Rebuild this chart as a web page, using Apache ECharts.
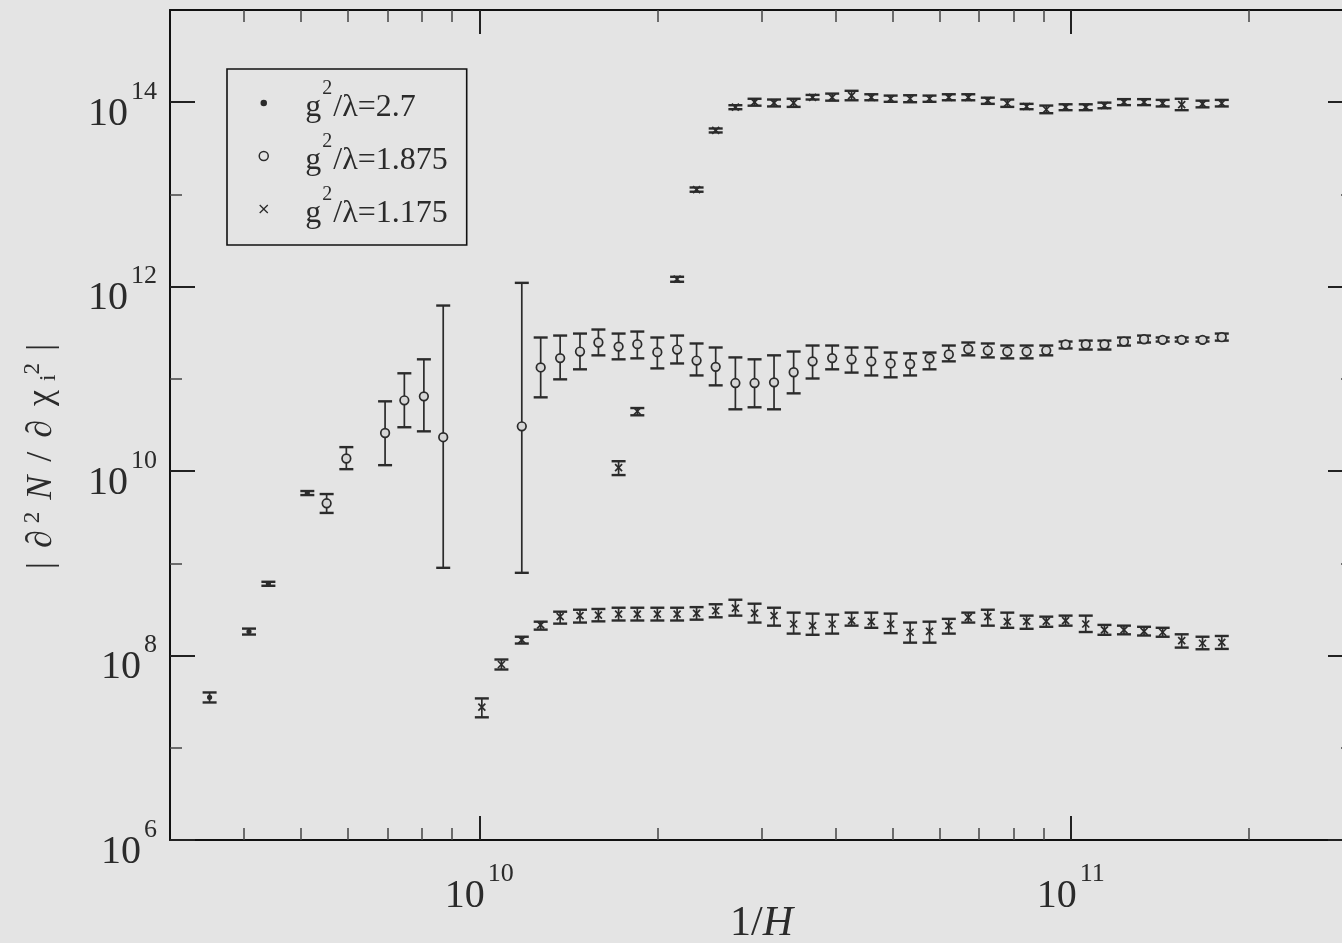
<!DOCTYPE html>
<html>
<head>
<meta charset="utf-8">
<script src="https://cdn.jsdelivr.net/npm/echarts@6/dist/echarts.min.js"></script>
<style>
html, body { margin: 0; padding: 0; background: #e4e4e4; }
#main { width: 1342px; height: 943px; }
</style>
</head>
<body>
<div id="main"></div>
<script>
// rows: [1/H, |d2N/dchi^2|, lower end of error bar, upper end of error bar]
var pts27 = [
    [3.50e9, 3.52e7, 3.10e7, 3.98e7],
    [4.08e9, 1.82e8, 1.69e8, 1.96e8],
    [4.40e9, 6.00e8, 5.71e8, 6.31e8],
    [5.12e9, 5.78e9, 5.50e9, 6.08e9]
];

var pts1875 = [
    [5.52e9, 4.48e9, 3.52e9, 5.64e9],
    [5.96e9, 1.37e10, 1.05e10, 1.82e10],
    [6.93e9, 2.59e10, 1.16e10, 5.71e10],
    [7.47e9, 5.86e10, 2.99e10, 1.15e11],
    [8.06e9, 6.47e10, 2.70e10, 1.63e11],
    [8.69e9, 2.33e10, 8.94e8, 6.24e11],
    [1.18e10, 3.06e10, 7.89e8, 1.10e12],
    [1.27e10, 1.33e11, 6.31e10, 2.81e11],
    [1.37e10, 1.68e11, 9.89e10, 2.95e11],
    [1.48e10, 1.98e11, 1.27e11, 3.10e11],
    [1.59e10, 2.48e11, 1.80e11, 3.43e11],
    [1.72e10, 2.24e11, 1.63e11, 3.10e11],
    [1.85e10, 2.38e11, 1.67e11, 3.26e11],
    [2.00e10, 1.95e11, 1.30e11, 2.81e11],
    [2.16e10, 2.08e11, 1.47e11, 2.95e11],
    [2.33e10, 1.58e11, 1.09e11, 2.42e11],
    [2.51e10, 1.35e11, 8.51e10, 2.19e11],
    [2.71e10, 9.02e10, 4.68e10, 1.71e11],
    [2.92e10, 9.02e10, 4.92e10, 1.63e11],
    [3.15e10, 9.17e10, 4.68e10, 1.80e11],
    [3.40e10, 1.18e11, 6.97e10, 1.98e11],
    [3.66e10, 1.55e11, 1.01e11, 2.30e11],
    [3.95e10, 1.68e11, 1.27e11, 2.30e11],
    [4.26e10, 1.63e11, 1.17e11, 2.19e11],
    [4.60e10, 1.55e11, 1.09e11, 2.19e11],
    [4.96e10, 1.47e11, 1.04e11, 1.93e11],
    [5.35e10, 1.45e11, 1.09e11, 1.89e11],
    [5.77e10, 1.67e11, 1.27e11, 1.93e11],
    [6.22e10, 1.84e11, 1.55e11, 2.30e11],
    [6.71e10, 2.10e11, 1.80e11, 2.48e11],
    [7.24e10, 2.03e11, 1.71e11, 2.42e11],
    [7.81e10, 1.98e11, 1.67e11, 2.30e11],
    [8.42e10, 1.98e11, 1.67e11, 2.30e11],
    [9.09e10, 2.03e11, 1.80e11, 2.30e11],
    [9.80e10, 2.36e11, 2.14e11, 2.54e11],
    [1.06e11, 2.36e11, 2.08e11, 2.60e11],
    [1.14e11, 2.36e11, 2.08e11, 2.60e11],
    [1.23e11, 2.54e11, 2.30e11, 2.81e11],
    [1.33e11, 2.69e11, 2.48e11, 2.95e11],
    [1.43e11, 2.65e11, 2.54e11, 2.81e11],
    [1.54e11, 2.65e11, 2.54e11, 2.81e11],
    [1.67e11, 2.65e11, 2.54e11, 2.81e11],
    [1.80e11, 2.83e11, 2.60e11, 3.10e11]
];

// g2/lambda = 1.175, upper branch
var pts1175a = [
    [1.72e10, 1.09e10, 9.06e9, 1.28e10],
    [1.85e10, 4.46e10, 4.03e10, 4.83e10],
    [2.16e10, 1.21e12, 1.13e12, 1.28e12],
    [2.33e10, 1.13e13, 1.07e13, 1.19e13],
    [2.51e10, 4.94e13, 4.70e13, 5.19e13],
    [2.71e10, 8.83e13, 8.40e13, 9.28e13],
    [2.92e10, 1.00e14, 9.17e13, 1.09e14],
    [3.15e10, 9.83e13, 9.00e13, 1.07e14],
    [3.40e10, 9.83e13, 8.90e13, 1.09e14],
    [3.66e10, 1.13e14, 1.07e14, 1.20e14],
    [3.95e10, 1.13e14, 1.04e14, 1.24e14],
    [4.26e10, 1.18e14, 1.05e14, 1.33e14],
    [4.60e10, 1.13e14, 1.05e14, 1.22e14],
    [4.96e10, 1.09e14, 1.01e14, 1.18e14],
    [5.35e10, 1.09e14, 1.00e14, 1.19e14],
    [5.77e10, 1.09e14, 1.01e14, 1.18e14],
    [6.22e10, 1.13e14, 1.05e14, 1.22e14],
    [6.71e10, 1.13e14, 1.05e14, 1.22e14],
    [7.24e10, 1.04e14, 9.60e13, 1.12e14],
    [7.81e10, 9.75e13, 8.90e13, 1.07e14],
    [8.42e10, 8.99e13, 8.40e13, 9.60e13],
    [9.09e10, 8.34e13, 7.60e13, 9.20e13],
    [9.80e10, 8.83e13, 8.20e13, 9.50e13],
    [1.06e11, 8.83e13, 8.20e13, 9.50e13],
    [1.14e11, 9.21e13, 8.60e13, 9.90e13],
    [1.23e11, 1.00e14, 9.30e13, 1.08e14],
    [1.33e11, 1.00e14, 9.30e13, 1.08e14],
    [1.43e11, 9.75e13, 9.00e13, 1.06e14],
    [1.54e11, 9.44e13, 8.20e13, 1.09e14],
    [1.67e11, 9.58e13, 8.80e13, 1.04e14],
    [1.80e11, 9.75e13, 9.00e13, 1.06e14]
];

// g2/lambda = 1.175, lower branch
var pts1175b = [
    [1.01e10, 2.76e7, 2.14e7, 3.43e7],
    [1.09e10, 8.00e7, 7.06e7, 9.06e7],
    [1.18e10, 1.48e8, 1.35e8, 1.60e8],
    [1.27e10, 2.15e8, 1.91e8, 2.33e8],
    [1.37e10, 2.64e8, 2.22e8, 2.99e8],
    [1.48e10, 2.71e8, 2.28e8, 3.14e8],
    [1.59e10, 2.75e8, 2.35e8, 3.20e8],
    [1.72e10, 2.82e8, 2.40e8, 3.30e8],
    [1.85e10, 2.82e8, 2.40e8, 3.30e8],
    [2.00e10, 2.82e8, 2.40e8, 3.30e8],
    [2.16e10, 2.82e8, 2.40e8, 3.30e8],
    [2.33e10, 2.87e8, 2.45e8, 3.35e8],
    [2.51e10, 3.06e8, 2.60e8, 3.60e8],
    [2.71e10, 3.26e8, 2.71e8, 4.03e8],
    [2.92e10, 2.88e8, 2.28e8, 3.65e8],
    [3.15e10, 2.71e8, 2.11e8, 3.30e8],
    [3.40e10, 2.20e8, 1.73e8, 2.92e8],
    [3.66e10, 2.11e8, 1.68e8, 2.85e8],
    [3.95e10, 2.20e8, 1.73e8, 2.78e8],
    [4.26e10, 2.39e8, 2.11e8, 2.92e8],
    [4.60e10, 2.33e8, 2.00e8, 2.92e8],
    [4.96e10, 2.20e8, 1.75e8, 2.85e8],
    [5.35e10, 1.79e8, 1.38e8, 2.28e8],
    [5.77e10, 1.83e8, 1.38e8, 2.33e8],
    [6.22e10, 2.11e8, 1.73e8, 2.50e8],
    [6.71e10, 2.60e8, 2.28e8, 2.92e8],
    [7.24e10, 2.64e8, 2.11e8, 3.14e8],
    [7.81e10, 2.33e8, 2.00e8, 2.92e8],
    [8.42e10, 2.35e8, 1.95e8, 2.71e8],
    [9.09e10, 2.35e8, 2.05e8, 2.64e8],
    [9.80e10, 2.39e8, 2.11e8, 2.71e8],
    [1.06e11, 2.20e8, 1.80e8, 2.71e8],
    [1.14e11, 1.90e8, 1.68e8, 2.15e8],
    [1.23e11, 1.90e8, 1.70e8, 2.11e8],
    [1.33e11, 1.83e8, 1.65e8, 2.05e8],
    [1.43e11, 1.79e8, 1.60e8, 2.00e8],
    [1.54e11, 1.45e8, 1.22e8, 1.70e8],
    [1.67e11, 1.36e8, 1.17e8, 1.60e8],
    [1.80e11, 1.39e8, 1.18e8, 1.63e8]
];

var names = ['g²/λ=2.7', 'g²/λ=1.875', 'g²/λ=1.175'];

// ticks
var xMajor = [1e10, 1e11];
var xMinor = [4e9, 5e9, 6e9, 7e9, 8e9, 9e9, 2e10, 3e10, 4e10, 5e10, 6e10, 7e10, 8e10, 9e10, 2e11];
var yMajor = [1e6, 1e8, 1e10, 1e12, 1e14];
var yMinor = [1e7, 1e9, 1e11, 1e13];

var serif = '"Liberation Serif", "DejaVu Serif", serif';
var ink = '#2b2b2b';
var bg = '#e4e4e4';

function powLabel(v) {
    return '{b|10}{s|' + Math.round(Math.log10(v)) + '}';
}
var powRich = {
    b: { fontFamily: serif, fontSize: 40, color: ink, padding: [24, 0, 0, 0] },
    s: { fontFamily: serif, fontSize: 26, color: ink, padding: [0, 0, 20, 3] }
};

function makeAxis(pos, range, ticks, len, major) {
    return {
        type: 'log', logBase: 10, min: range[0], max: range[1], position: pos,
        axisLine: { show: major, onZero: false, lineStyle: { color: '#111', width: 2 } },
        axisTick: { inside: true, length: len, customValues: ticks,
                    lineStyle: { color: major ? '#222' : '#444', width: major ? 2 : 1.5 } },
        axisLabel: { show: false },
        splitLine: { show: false }
    };
}

var xRange = [3e9, 3e11];
var yRange = [1e6, 1e15];

var xAxes = [
    makeAxis('bottom', xRange, xMajor, 24, true),
    makeAxis('bottom', xRange, xMinor, 12, false),
    makeAxis('top', xRange, xMajor, 24, true),
    makeAxis('top', xRange, xMinor, 12, false)
];
xAxes[0].axisLabel = { show: true, customValues: xMajor, formatter: powLabel, rich: powRich, margin: 12 };
xAxes[0].name = '{r|1/}{i|H}';
xAxes[0].nameLocation = 'middle';
xAxes[0].nameGap = 63;
xAxes[0].nameMoveOverlap = false;
xAxes[0].nameTextStyle = { rich: {
    r: { fontFamily: serif, fontSize: 42, color: ink },
    i: { fontFamily: serif, fontSize: 42, fontStyle: 'italic', color: ink }
} };

var yAxes = [
    makeAxis('left', yRange, yMajor, 25, true),
    makeAxis('left', yRange, yMinor, 12, false),
    makeAxis('right', yRange, yMajor, 25, true),
    makeAxis('right', yRange, yMinor, 12, false)
];
yAxes[0].axisLabel = { show: true, customValues: yMajor, formatter: powLabel, rich: powRich, margin: 13 };
yAxes[0].name = '{t||}{t|∂}{s|2}{i|N}{t|/}{t|∂}{t|χ}{u|i}{s|2}{e||}';
yAxes[0].nameLocation = 'middle';
yAxes[0].nameGap = 108;
yAxes[0].nameMoveOverlap = false;
yAxes[0].nameTextStyle = { rich: {
    t: { fontFamily: serif, fontSize: 36, color: ink, padding: [0, 7, 0, 7] },
    e: { fontFamily: serif, fontSize: 36, color: ink, padding: [0, 70, 0, 7] },
    i: { fontFamily: serif, fontSize: 36, fontStyle: 'italic', color: ink, padding: [0, 7, 0, 7] },
    s: { fontFamily: serif, fontSize: 23, color: ink, padding: [0, 5, 18, 0] },
    u: { fontFamily: serif, fontSize: 23, color: ink, padding: [14, 0, 0, 2] }
} };

function errBar(marker) {
    return function (params, api) {
        var p = api.coord([api.value(0), api.value(1)]);
        var lo = api.coord([api.value(0), api.value(2)]);
        var hi = api.coord([api.value(0), api.value(3)]);
        var hw = 7;
        var st = { stroke: ink, lineWidth: 1.7 };
        var cap = { stroke: ink, lineWidth: 2.4 };
        var kids = [
            { type: 'line', shape: { x1: p[0], y1: lo[1], x2: p[0], y2: hi[1] }, style: st },
            { type: 'line', shape: { x1: p[0] - hw, y1: lo[1], x2: p[0] + hw, y2: lo[1] }, style: cap },
            { type: 'line', shape: { x1: p[0] - hw, y1: hi[1], x2: p[0] + hw, y2: hi[1] }, style: cap }
        ];
        if (marker === 'dot') {
            kids.push({ type: 'circle', shape: { cx: p[0], cy: p[1], r: 2.6 }, style: { fill: ink } });
        } else if (marker === 'ring') {
            kids.push({ type: 'circle', shape: { cx: p[0], cy: p[1], r: 4.3 },
                        style: { fill: '#d6d6d6', stroke: ink, lineWidth: 1.7 } });
        } else {
            kids.push({ type: 'line', shape: { x1: p[0] - 3.5, y1: p[1] - 3.5, x2: p[0] + 3.5, y2: p[1] + 3.5 }, style: st });
            kids.push({ type: 'line', shape: { x1: p[0] - 3.5, y1: p[1] + 3.5, x2: p[0] + 3.5, y2: p[1] - 3.5 }, style: st });
        }
        return { type: 'group', children: kids };
    };
}

function errSeries(name, pts, marker) {
    return {
        name: name, type: 'custom', xAxisIndex: 0, yAxisIndex: 0,
        renderItem: errBar(marker),
        encode: { x: 0, y: [1, 2, 3] },
        data: pts,
        silent: true
    };
}

var chart = echarts.init(document.getElementById('main'));
chart.setOption({
    backgroundColor: bg,
    animation: false,
    grid: { left: 170, top: 10, right: -11, bottom: 103, containLabel: false, outerBoundsMode: 'none' },
    xAxis: xAxes,
    yAxis: yAxes,
    legend: {
        orient: 'vertical', left: 227, top: 69,
        padding: [10, 19, 12, 31],
        borderColor: '#111', borderWidth: 1.6,
        itemWidth: 9, itemHeight: 9, itemGap: 5,
        selectedMode: false,
        data: [
            { name: names[0], icon: 'circle', itemStyle: { color: ink, borderColor: bg, borderWidth: 2.5 } },
            { name: names[1], icon: 'circle', itemStyle: { color: 'rgba(0,0,0,0)', borderColor: ink, borderWidth: 1.5 } },
            { name: names[2], icon: 'path://M0,1L1,0L5,4L9,0L10,1L6,5L10,9L9,10L5,6L1,10L0,9L4,5Z', itemStyle: { color: ink } }
        ],
        formatter: function (name) {
            var parts = name.split('²');
            return '{t|' + parts[0] + '}{s|2}{t|' + parts[1] + '}';
        },
        textStyle: {
            padding: [0, 0, 0, 32],
            rich: {
                t: { fontFamily: serif, fontSize: 32, lineHeight: 34, color: ink, padding: [10, 0, 0, 0] },
                s: { fontFamily: serif, fontSize: 20, lineHeight: 16, color: ink, padding: [0, 1, 28, 1] }
            }
        }
    },
    series: [
        errSeries(names[0], pts27, 'dot'),
        errSeries(names[1], pts1875, 'ring'),
        errSeries(names[2], pts1175a, 'cross'),
        errSeries(names[2], pts1175b, 'cross')
    ]
});
</script>
</body>
</html>
